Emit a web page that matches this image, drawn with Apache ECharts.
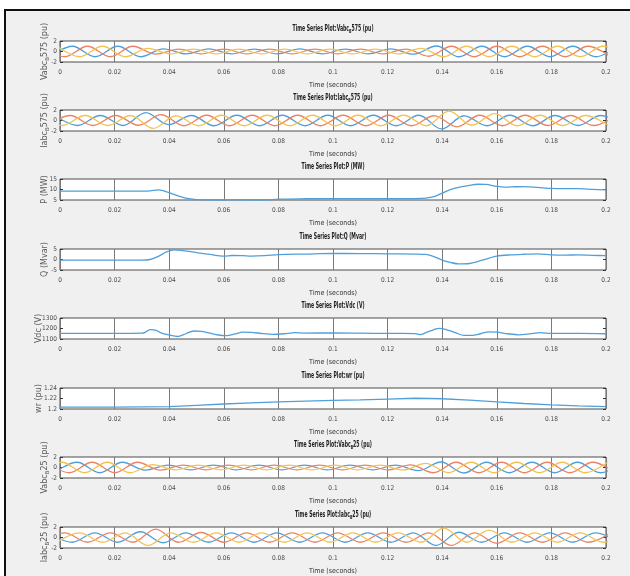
<!DOCTYPE html>
<html>
<head>
<meta charset="utf-8">
<script src="https://cdn.jsdelivr.net/npm/echarts@6/dist/echarts.min.js"></script>
<style>
  html, body { margin: 0; padding: 0; background: #fff; width: 630px; height: 576px; overflow: hidden; }
  #frame { position: absolute; left: 4px; top: 9px; width: 700px; height: 700px;
           background: #f0f0f0; border-left: 2px solid #111; border-top: 2px solid #111; }
  #chart { position: absolute; left: 0; top: 0; width: 630px; height: 576px; }
</style>
</head>
<body>
<div id="frame"></div>
<div id="chart"></div>
<script>
// ---- time axis -------------------------------------------------------
const xTickLabels = ['0', '0.02', '0.04', '0.06', '0.08', '0.1', '0.12', '0.14', '0.16', '0.18', '0.2'];
// three-phase signals are stored as their successive peaks/troughs,
// one value per half cycle of the 60 Hz system
const HALF_CYCLE = 1 / 120;

// ---- Vabc_B575 (pu) ----------------------------------------------------
const vabcB575_a_t0 = -0.0038;
const vabcB575_a = [-1.0, 1.0, -1.0, 1.0, -1.0, 0.5, -0.45, 0.5, -0.45, 0.45, -0.45, 0.5, -0.45, 0.45, -0.45, 0.5, -0.5, 1.05, -1.0, 1.0, -1.0, 1.0, -1.0, 1.0, -1.0, 1.0];
const vabcB575_b_t0 = -0.0066;
const vabcB575_b = [1.0, -1.0, 1.0, -1.0, 1.0, -0.5, 0.45, -0.45, 0.45, -0.45, 0.45, -0.45, 0.45, -0.45, 0.45, -0.45, 0.45, -0.9, 1.0, -1.0, 1.0, -1.0, 1.0, -1.0, 1.0, -1.0];
const vabcB575_c_t0 = -0.0011;
const vabcB575_c = [1.0, -1.0, 1.0, -1.0, 0.6, -0.45, 0.45, -0.45, 0.45, -0.45, 0.45, -0.45, 0.45, -0.45, 0.45, -0.45, 0.6, -1.0, 1.0, -1.0, 1.0, -1.0, 1.0, -1.0, 1.0, -1.0];

// ---- Iabc_B575 (pu) ----------------------------------------------------
const iabcB575_a_t0 = -0.0019;
const iabcB575_a = [0.95, -0.95, 0.95, -0.95, 1.5, -0.8, 0.95, -1.0, 1.0, -1.0, 1.0, -1.0, 1.0, -1.0, 1.0, -1.0, 1.0, -1.6, 0.9, -1.0, 1.0, -1.0, 0.95, -0.95, 0.95, -0.95];
const iabcB575_b_t0 = -0.0046;
const iabcB575_b = [-0.95, 0.95, -0.95, 0.95, -0.9, 1.1, -1.0, 1.0, -1.0, 1.0, -1.0, 1.0, -1.0, 1.0, -1.0, 1.0, -1.0, 0.9, -1.2, 1.0, -1.0, 1.0, -0.95, 0.95, -0.95, 0.95];
const iabcB575_c_t0 = -0.0075;
const iabcB575_c = [0.95, -0.95, 0.95, -0.95, 0.95, -1.5, 0.9, -1.0, 1.0, -1.0, 1.0, -1.0, 1.0, -1.0, 1.0, -1.0, 1.0, -1.0, 1.8, -0.9, 1.3, -1.0, 1.0, -0.95, 0.95, -0.95];

// ---- P (MW) ------------------------------------------------------------
const pTime = [0, 0.01, 0.02, 0.03, 0.033, 0.036, 0.04, 0.043, 0.046, 0.05, 0.055, 0.06, 0.065, 0.07, 0.075, 0.08, 0.09, 0.1, 0.11, 0.12, 0.13, 0.134, 0.137, 0.14, 0.143, 0.146, 0.15, 0.153, 0.156, 0.16, 0.163, 0.167, 0.17, 0.175, 0.18, 0.185, 0.19, 0.195, 0.2];
const pVal  = [9.2, 9.2, 9.2, 9.2, 9.3, 9.8, 8.5, 7.1, 5.9, 5.2, 5.0, 5.0, 5.1, 5.0, 5.0, 5.4, 5.6, 5.7, 5.7, 5.7, 5.7, 5.9, 6.6, 8.3, 9.9, 11.0, 12.0, 12.5, 12.4, 11.5, 11.1, 11.3, 11.4, 11.0, 10.5, 10.4, 10.4, 10.1, 9.8];

// ---- Q (Mvar) ----------------------------------------------------------
const qTime = [0, 0.01, 0.02, 0.03, 0.033, 0.036, 0.039, 0.042, 0.045, 0.05, 0.055, 0.06, 0.063, 0.067, 0.07, 0.075, 0.08, 0.09, 0.1, 0.11, 0.12, 0.13, 0.134, 0.137, 0.14, 0.143, 0.146, 0.15, 0.153, 0.156, 0.16, 0.165, 0.17, 0.175, 0.18, 0.185, 0.19, 0.195, 0.2];
const qVal  = [-0.3, -0.3, -0.3, -0.3, 0.0, 1.5, 3.6, 4.6, 4.2, 3.3, 2.4, 1.6, 1.9, 1.8, 1.6, 1.8, 2.3, 2.6, 2.9, 2.8, 2.7, 2.6, 2.4, 1.4, -0.3, -1.4, -2.1, -1.9, -1.0, 0.2, 1.6, 2.2, 2.5, 2.7, 2.2, 2.1, 2.2, 2.0, 1.8];

// ---- Vdc (V) -----------------------------------------------------------
const vdcTime = [0, 0.01, 0.02, 0.03, 0.031, 0.033, 0.035, 0.037, 0.04, 0.043, 0.046, 0.049, 0.052, 0.055, 0.058, 0.061, 0.064, 0.067, 0.07, 0.074, 0.078, 0.082, 0.086, 0.09, 0.1, 0.11, 0.12, 0.13, 0.132, 0.134, 0.137, 0.139, 0.142, 0.145, 0.148, 0.151, 0.154, 0.157, 0.16, 0.164, 0.168, 0.172, 0.176, 0.18, 0.19, 0.2];
const vdcVal  = [1153, 1153, 1153, 1155, 1160, 1190, 1185, 1158, 1138, 1124, 1150, 1176, 1172, 1155, 1138, 1133, 1148, 1165, 1163, 1152, 1145, 1150, 1160, 1156, 1158, 1155, 1153, 1152, 1142, 1160, 1190, 1202, 1185, 1158, 1135, 1135, 1150, 1168, 1165, 1150, 1140, 1148, 1160, 1153, 1153, 1150];

// ---- wr (pu) -----------------------------------------------------------
const wrTime = [0, 0.02, 0.04, 0.05, 0.06, 0.07, 0.08, 0.09, 0.1, 0.11, 0.12, 0.13, 0.14, 0.15, 0.16, 0.17, 0.18, 0.19, 0.2];
const wrVal  = [1.2035, 1.2035, 1.2045, 1.207, 1.2095, 1.2115, 1.2135, 1.215, 1.2165, 1.2175, 1.219, 1.2205, 1.2195, 1.217, 1.2135, 1.2105, 1.208, 1.206, 1.2045];

// ---- Vabc_B25 (pu) -----------------------------------------------------
const vabcB25_a_t0 = -0.0021;
const vabcB25_a = [-1.0, 1.0, -1.0, 1.0, -0.5, 0.45, -0.45, 0.45, -0.45, 0.45, -0.45, 0.45, -0.45, 0.45, -0.45, 0.45, -0.6, 1.05, -1.05, 1.0, -1.0, 1.0, -1.0, 1.0, -1.0, 1.0];
const vabcB25_b_t0 = -0.0049;
const vabcB25_b = [1.0, -1.0, 1.0, -1.0, 1.0, -0.5, 0.45, -0.45, 0.45, -0.45, 0.45, -0.45, 0.45, -0.45, 0.45, -0.45, 0.5, -1.0, 1.0, -1.0, 1.0, -1.0, 1.0, -1.0, 1.0, -1.0];
const vabcB25_c_t0 = -0.0077;
const vabcB25_c = [-1.0, 1.0, -1.0, 1.0, -1.0, 0.55, -0.45, 0.45, -0.45, 0.45, -0.45, 0.45, -0.45, 0.45, -0.45, 0.45, -0.45, 0.8, -1.0, 1.0, -1.0, 1.0, -1.0, 1.0, -1.0, 1.0];

// ---- Iabc_B25 (pu) -----------------------------------------------------
const iabcB25_a_t0 = -0.0039;
const iabcB25_a = [0.9, -0.9, 0.9, -0.9, 1.1, -1.0, 0.9, -0.9, 0.9, -0.9, 0.9, -0.9, 0.9, -0.9, 0.9, -0.9, 0.9, -1.5, 1.0, -0.9, 0.9, -0.9, 0.9, -0.9, 0.9, -0.9];
const iabcB25_b_t0 = -0.0066;
const iabcB25_b = [-0.9, 0.9, -0.9, 0.9, -0.9, 1.6, -0.9, 0.95, -0.9, 0.9, -0.9, 0.9, -0.9, 0.9, -0.9, 0.9, -0.9, 0.9, -1.5, 0.9, -1.1, 0.9, -0.9, 0.9, -0.9, 0.9];
const iabcB25_c_t0 = -0.0011;
const iabcB25_c = [-0.9, 0.9, -0.9, 0.9, -1.5, 0.9, -0.9, 0.9, -0.9, 0.9, -0.9, 0.9, -0.9, 0.9, -0.9, 0.9, -0.9, 1.8, -0.9, 1.4, -0.9, 0.9, -0.9, 0.9, -0.9, 0.9];

// ---- helpers -----------------------------------------------------------
const NARROW = '"Liberation Sans Narrow","DejaVu Sans Condensed","Arial Narrow",sans-serif';
const WIDE = '"DejaVu Sans",sans-serif';
const BLUE = '#4f9fda', ORANGE = '#ea8463', YELLOW = '#f2c255';

function extremaPoints(t0, vals) {
  return vals.map((v, k) => [t0 + k * HALF_CYCLE, v]);
}
function pairs(ts, vs) {
  return ts.map((t, i) => [t, vs[i]]);
}
// label parts: [main] or [main, subscript, rest]
function richLabel(parts) {
  if (parts.length === 1) return '{n|' + parts[0] + '}';
  return '{n|' + parts[0] + '}{s|' + parts[1] + '}{n|' + parts[2] + '}';
}

const panels = [
  { name: ['Vabc', 'B', '575 (pu)'], min: -2, max: 2, step: 2, gap: 9, smooth: 0.36,
    lines: [[extremaPoints(vabcB575_a_t0, vabcB575_a), BLUE], [extremaPoints(vabcB575_b_t0, vabcB575_b), ORANGE], [extremaPoints(vabcB575_c_t0, vabcB575_c), YELLOW]] },
  { name: ['Iabc', 'B', '575 (pu)'], min: -2, max: 2, step: 2, gap: 9, smooth: 0.36,
    lines: [[extremaPoints(iabcB575_a_t0, iabcB575_a), BLUE], [extremaPoints(iabcB575_b_t0, iabcB575_b), ORANGE], [extremaPoints(iabcB575_c_t0, iabcB575_c), YELLOW]] },
  { name: ['P (MW)'], min: 5, max: 15, step: 5, gap: 9, smooth: 0.3,
    lines: [[pairs(pTime, pVal), BLUE]] },
  { name: ['Q (Mvar)'], min: -5, max: 5, step: 5, gap: 9, smooth: 0.3,
    lines: [[pairs(qTime, qVal), BLUE]] },
  { name: ['Vdc (V)'], min: 1100, max: 1300, step: 100, gap: 15, smooth: 0.3,
    lines: [[pairs(vdcTime, vdcVal), BLUE]] },
  { name: ['wr (pu)'], min: 1.2, max: 1.24, step: 0.02, gap: 15, smooth: false,
    lines: [[pairs(wrTime, wrVal), BLUE]] },
  { name: ['Vabc', 'B', '25 (pu)'], min: -2, max: 2, step: 2, gap: 9, smooth: 0.36,
    lines: [[extremaPoints(vabcB25_a_t0, vabcB25_a), BLUE], [extremaPoints(vabcB25_b_t0, vabcB25_b), ORANGE], [extremaPoints(vabcB25_c_t0, vabcB25_c), YELLOW]] },
  { name: ['Iabc', 'B', '25 (pu)'], min: -2, max: 2, step: 2, gap: 9, smooth: 0.36,
    lines: [[extremaPoints(iabcB25_a_t0, iabcB25_a), BLUE], [extremaPoints(iabcB25_b_t0, iabcB25_b), ORANGE], [extremaPoints(iabcB25_c_t0, iabcB25_c), YELLOW]] }
];

// ---- layout ------------------------------------------------------------
const GRID_TOPS = [41, 110, 179, 249, 318, 388, 457, 527];
const GRID_H = 21, GRID_LEFT = 60, GRID_W = 546;
const CENTER_X = GRID_LEFT + GRID_W / 2;

const grids = [], xAxes = [], yAxes = [], series = [], graphics = [];

panels.forEach((p, i) => {
  grids.push({
    left: GRID_LEFT, top: GRID_TOPS[i], width: GRID_W, height: GRID_H,
    show: true, backgroundColor: '#ffffff', borderColor: '#4d4d4d', borderWidth: 1
  });
  xAxes.push({
    type: 'value', gridIndex: i, min: 0, max: 0.2, interval: 0.02,
    axisLine: { show: false }, axisTick: { show: false },
    splitLine: { show: true, lineStyle: { color: '#7a7a7a', width: 1 } },
    axisLabel: {
      fontSize: 6.5, color: '#4a4a4a', fontFamily: NARROW, margin: 7,
      formatter: v => xTickLabels[Math.round(v / 0.02)]
    },
    name: 'Time (seconds)', nameLocation: 'middle', nameGap: 20, nameMoveOverlap: false,
    nameTextStyle: { fontSize: 7, color: '#333', fontFamily: NARROW }
  });
  const yCommon = {
    type: 'value', gridIndex: i, min: p.min, max: p.max, interval: p.step,
    axisLine: { show: false }, splitLine: { show: false },
    axisTick: { show: true, inside: true, length: 3, lineStyle: { color: '#333' } }
  };
  yAxes.push(Object.assign({}, yCommon, {
    position: 'left',
    axisLabel: { fontSize: 6.5, color: '#4a4a4a', fontFamily: NARROW, margin: 3, formatter: v => String(v) },
    name: richLabel(p.name), nameLocation: 'middle', nameRotate: 90, nameGap: p.gap,
    nameMoveOverlap: false,
    nameTextStyle: {
      color: '#5c5c5c',
      rich: {
        n: { fontFamily: WIDE, fontSize: 8, color: '#5c5c5c', lineHeight: 10, verticalAlign: 'top' },
        s: { fontFamily: WIDE, fontSize: 5.5, color: '#5c5c5c', lineHeight: 10, verticalAlign: 'bottom' }
      }
    }
  }));
  yAxes.push(Object.assign({}, yCommon, { position: 'right', axisLabel: { show: false } }));

  p.lines.forEach(([data, color]) => {
    series.push({
      type: 'line', xAxisIndex: i, yAxisIndex: 2 * i, data,
      showSymbol: false, smooth: p.smooth, clip: true,
      lineStyle: { color, width: 1.3 }, itemStyle: { color },
      silent: true
    });
  });

  graphics.push({
    type: 'text', x: CENTER_X, y: GRID_TOPS[i] - 16, scaleX: 0.64,
    style: {
      text: richLabel(['Time Series Plot:' + p.name[0]].concat(p.name.slice(1))),
      align: 'center', verticalAlign: 'top', fill: '#1e1e1e',
      rich: {
        n: { fontFamily: NARROW, fontWeight: 'bold', fontSize: 8, lineHeight: 10, verticalAlign: 'top', fill: '#1e1e1e' },
        s: { fontFamily: NARROW, fontWeight: 'bold', fontSize: 5.5, lineHeight: 10, verticalAlign: 'bottom', fill: '#1e1e1e' }
      }
    }
  });
});

const chart = echarts.init(document.getElementById('chart'), null, { renderer: 'canvas' });
chart.setOption({
  backgroundColor: 'transparent',
  animation: false,
  grid: grids,
  xAxis: xAxes,
  yAxis: yAxes,
  series,
  graphic: graphics
});
</script>
</body>
</html>
